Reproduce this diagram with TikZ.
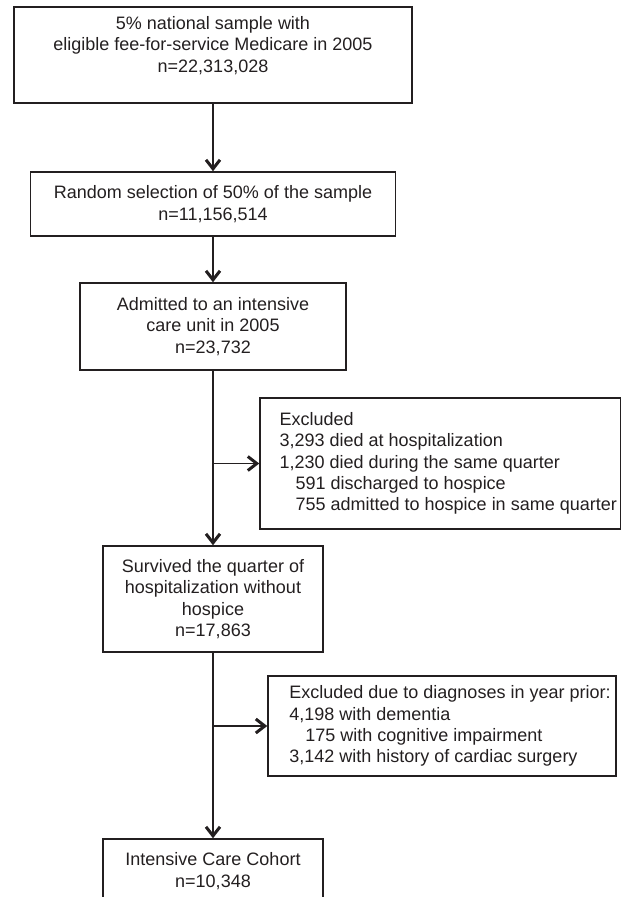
\documentclass[tikz,border=0pt]{standalone}
\usepackage{fontspec}
\setmainfont{Liberation Sans}
\usetikzlibrary{arrows.meta}
\definecolor{ink}{RGB}{35,31,32}
\newcommand\gap{\hspace*{16pt}}

\begin{document}
\begin{tikzpicture}[x=1pt,y=-1pt,>={Straight Barb[length=9pt,width=14pt,line width=3pt]},
		every node/.style={font=\fontsize{18pt}{21.3pt}\selectfont,text=ink},
		stage/.style={draw=ink,line width=1.5pt,align=center,inner sep=0pt},
		exclbox/.style={draw=ink,line width=1.5pt,align=left,inner sep=0pt},
		flow/.style={ink,line width=1.9pt}]
		\useasboundingbox (0,0) rectangle (622,897);
		\clip (0,0) rectangle (622,897);
		\node[stage,minimum width=398pt,minimum height=96pt] (sample) at (213,55)
			{5\% national sample with\\eligible fee-for-service Medicare in 2005\\n=22,313,028\\\mbox{}};
		\node[stage,minimum width=365pt,minimum height=64pt,node distance=149pt,below of=sample] (random)
			{Random selection of 50\% of the sample\\n=11,156,514};
		\node[stage,minimum width=266pt,minimum height=87pt,node distance=122.5pt,below of=random] (icu)
			{Admitted to an intensive\\care unit in 2005\\n=23,732};
		\node[stage,minimum width=220pt,minimum height=106pt,node distance=272.5pt,below of=icu] (survived)
			{Survived the quarter of\\hospitalization without\\hospice\\n=17,863};
		\node[stage,minimum width=220pt,minimum height=64pt,node distance=272pt,below of=survived] (cohort)
			{Intensive Care Cohort\\n=10,348};
		\node[exclbox,minimum width=360.5pt,minimum height=131pt] (excl1) at (440.25,463.5)
			{\gap Excluded\\\gap 3,293 died at hospitalization\\\gap 1,230 died during the same quarter\\
			 \gap\gap 591 discharged to hospice\\\gap\gap 755 admitted to hospice in same quarter};
		\node[exclbox,minimum width=348pt,minimum height=100pt] (excl2) at (442,726)
			{\gap Excluded due to diagnoses in year prior:\\\gap 4,198 with dementia\\
			 \gap\gap 175 with cognitive impairment\\\gap 3,142 with history of cardiac surgery};
		\coordinate (split1) at (icu.south |- excl1.west);
		\coordinate (split2) at (survived.south |- excl2.west);
		\path[->,flow] (sample)   edge (random)
		               (random)   edge (icu)
		               (icu)      edge (survived)
		               (survived) edge (cohort)
		               (split1)   edge (excl1)
		               (split2)   edge (excl2);
	\end{tikzpicture}
\end{document}
